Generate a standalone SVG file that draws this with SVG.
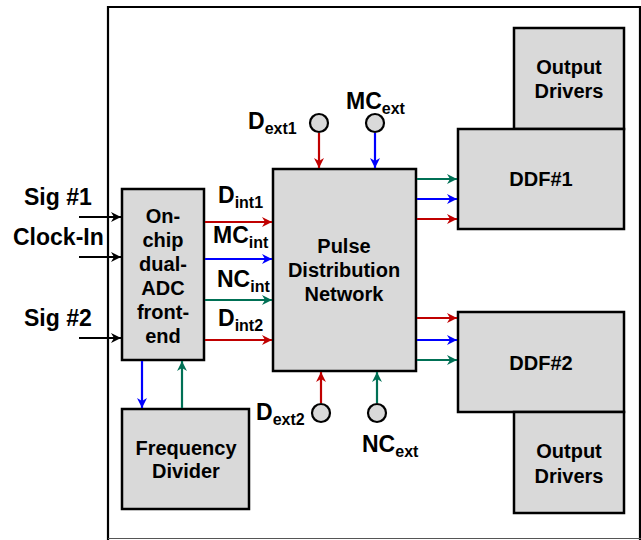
<svg xmlns="http://www.w3.org/2000/svg" width="641" height="540" viewBox="0 0 641 540">
<style>
.box{fill:#D9D9D9;stroke:#000;stroke-width:2.5}
.t{font-family:"Liberation Sans",Arial,sans-serif;font-weight:bold;fill:#000}
.c{font-size:20px;text-anchor:middle}
.l{font-size:23px}
.s{font-size:16px}
.k{stroke:#000;stroke-width:2;fill:none}
.r{stroke:#C00000;stroke-width:2.2;fill:none}
.b{stroke:#0000FF;stroke-width:2.2;fill:none}
.g{stroke:#007055;stroke-width:2.2;fill:none}
.port{fill:#D9D9D9;stroke:#000;stroke-width:2.2}
</style>
<defs>
<marker id="ak" viewBox="0 0 10 10" refX="10" refY="5" markerWidth="10" markerHeight="10" markerUnits="userSpaceOnUse" orient="auto"><path d="M0,0 L10,5 L0,10 L3,5 Z" fill="#000"/></marker>
<marker id="ar" viewBox="0 0 10 10" refX="10" refY="5" markerWidth="10" markerHeight="10" markerUnits="userSpaceOnUse" orient="auto"><path d="M0,0 L10,5 L0,10 L3,5 Z" fill="#C00000"/></marker>
<marker id="ab" viewBox="0 0 10 10" refX="10" refY="5" markerWidth="10" markerHeight="10" markerUnits="userSpaceOnUse" orient="auto"><path d="M0,0 L10,5 L0,10 L3,5 Z" fill="#0000FF"/></marker>
<marker id="ag" viewBox="0 0 10 10" refX="10" refY="5" markerWidth="10" markerHeight="10" markerUnits="userSpaceOnUse" orient="auto"><path d="M0,0 L10,5 L0,10 L3,5 Z" fill="#007055"/></marker>
</defs>
<rect width="641" height="540" fill="#fff"/>
<g id="frame"><path d="M108,540 L108,7 L640,7 L640,540" fill="none" stroke="#000" stroke-width="2.2"/><line x1="108" y1="538.5" x2="641" y2="538.5" stroke="#555" stroke-width="1"/></g>

<g id="adc"><rect class="box" x="122" y="189" width="82" height="171"/>
<text class="t c" x="163" y="223">On-</text><text class="t c" x="163" y="247">chip</text><text class="t c" x="163" y="271">dual-</text><text class="t c" x="163" y="295">ADC</text><text class="t c" x="163" y="319">front-</text><text class="t c" x="163" y="343">end</text></g>

<g id="pdn"><rect class="box" x="273" y="169" width="143" height="202"/>
<text class="t c" x="344" y="253">Pulse</text><text class="t c" x="344" y="277">Distribution</text><text class="t c" x="344" y="301">Network</text></g>

<g id="od1"><rect class="box" x="514" y="28" width="110" height="101"/>
<text class="t c" x="569" y="74">Output</text><text class="t c" x="569" y="98">Drivers</text></g>
<g id="ddf1"><rect class="box" x="458" y="129" width="166" height="100"/>
<text class="t c" x="541" y="186">DDF#1</text></g>
<g id="ddf2"><rect class="box" x="458" y="312" width="166" height="100"/>
<text class="t c" x="541" y="370">DDF#2</text></g>
<g id="od2"><rect class="box" x="514" y="412" width="110" height="101"/>
<text class="t c" x="569" y="458">Output</text><text class="t c" x="569" y="483">Drivers</text></g>
<g id="fdiv"><rect class="box" x="122" y="409" width="127" height="100"/>
<text class="t c" x="186" y="455">Frequency</text><text class="t c" x="186" y="478">Divider</text></g>

<g id="ports">
<circle class="port" cx="319" cy="123" r="9"/>
<circle class="port" cx="375" cy="123" r="9"/>
<circle class="port" cx="321" cy="413" r="9"/>
<circle class="port" cx="377" cy="413" r="9"/>
</g>

<g id="connectors">
<line class="k" x1="79" y1="217" x2="121" y2="217" marker-end="url(#ak)"/>
<line class="k" x1="79" y1="257" x2="121" y2="257" marker-end="url(#ak)"/>
<line class="k" x1="79" y1="338" x2="121" y2="338" marker-end="url(#ak)"/>
<line class="r" x1="205" y1="222" x2="272" y2="222" marker-end="url(#ar)"/>
<line class="b" x1="205" y1="259" x2="272" y2="259" marker-end="url(#ab)"/>
<line class="g" x1="205" y1="300" x2="272" y2="300" marker-end="url(#ag)"/>
<line class="r" x1="205" y1="340" x2="272" y2="340" marker-end="url(#ar)"/>
<line class="g" x1="417" y1="179" x2="457" y2="179" marker-end="url(#ag)"/>
<line class="b" x1="417" y1="199" x2="457" y2="199" marker-end="url(#ab)"/>
<line class="r" x1="417" y1="219" x2="457" y2="219" marker-end="url(#ar)"/>
<line class="r" x1="417" y1="318" x2="457" y2="318" marker-end="url(#ar)"/>
<line class="b" x1="417" y1="340" x2="457" y2="340" marker-end="url(#ab)"/>
<line class="g" x1="417" y1="360" x2="457" y2="360" marker-end="url(#ag)"/>
<line class="r" x1="319" y1="133" x2="319" y2="168" marker-end="url(#ar)"/>
<line class="b" x1="375" y1="133" x2="375" y2="168" marker-end="url(#ab)"/>
<line class="r" x1="321" y1="403" x2="321" y2="372" marker-end="url(#ar)"/>
<line class="g" x1="377" y1="403" x2="377" y2="372" marker-end="url(#ag)"/>
<line class="b" x1="142" y1="361" x2="142" y2="408" marker-end="url(#ab)"/>
<line class="g" x1="182" y1="408" x2="182" y2="361" marker-end="url(#ag)"/>
</g>

<g id="labels">
<text class="t l" x="24" y="205">Sig #1</text>
<text class="t l" x="13" y="245">Clock-In</text>
<text class="t l" x="24" y="326">Sig #2</text>
<text class="t l" x="218" y="203">D<tspan class="s" dy="5">int1</tspan></text>
<text class="t l" x="213" y="243">MC<tspan class="s" dy="5">int</tspan></text>
<text class="t l" x="217" y="287">NC<tspan class="s" dy="5">int</tspan></text>
<text class="t l" x="218" y="326">D<tspan class="s" dy="5">int2</tspan></text>
<text class="t l" x="248" y="129">D<tspan class="s" dy="5">ext1</tspan></text>
<text class="t l" x="346" y="109">MC<tspan class="s" dy="5">ext</tspan></text>
<text class="t l" x="256" y="420">D<tspan class="s" dy="5">ext2</tspan></text>
<text class="t l" x="362" y="452">NC<tspan class="s" dy="5">ext</tspan></text>
</g>
</svg>
